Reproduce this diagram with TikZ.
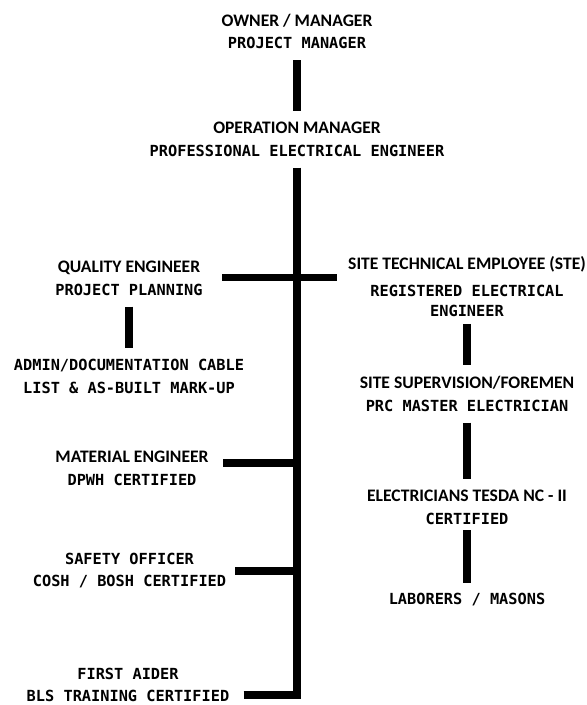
\documentclass[tikz,border=0pt]{standalone}
\usepackage{fontspec}
\usepackage{tikz}
\usetikzlibrary{calc}
\newfontfamily\rolefont{Carlito}
\newfontfamily\certfont{DejaVu Sans Mono}
\newcommand{\rtitle}{\rolefont\bfseries\fontsize{10}{13}\selectfont}
\newcommand{\rdesc}{\certfont\bfseries\fontsize{8.7}{13}\selectfont}
\tikzstyle{role}=[align=center,inner sep=2pt,font=\fontsize{10}{13}\selectfont]
\tikzstyle{bar}=[line width=4.5pt,shorten <=4pt,shorten >=4pt]
\tikzstyle{spine}=[line width=4pt,shorten <=4pt]
\tikzstyle{none}=[]

\begin{document}
\begin{tikzpicture}[x=0.2cm, y=-0.2cm]
            \useasboundingbox (0, 0) rectangle (58.6, 70.5);
            \node [style=role] (0) at (29.7, 3.15) {\rtitle OWNER / MANAGER\\\rdesc PROJECT MANAGER};
            \node [style=role] (1) at (29.7, 13.95) {\rtitle OPERATION MANAGER\\\rdesc PROFESSIONAL ELECTRICAL ENGINEER};
            \node [style=role] (2) at (12.9, 27.85) {\rtitle QUALITY ENGINEER\\\rdesc PROJECT PLANNING};
            \node [style=role] (3) at (12.9, 37.65) {\rdesc ADMIN/DOCUMENTATION CABLE\\\rdesc LIST \& AS-BUILT MARK-UP};
            \node [style=role] (4) at (13.2, 46.85) {\rtitle MATERIAL ENGINEER\\\rdesc DPWH CERTIFIED};
            \node [style=role] (5) at (12.95, 57.05) {\rdesc SAFETY OFFICER\\\rdesc COSH / BOSH CERTIFIED};
            \node [style=role] (6) at (12.8, 68.5) {\rdesc FIRST AIDER\\\rdesc BLS TRAINING CERTIFIED};
            \node [style=role] (7) at (46.7, 28.65) {\rtitle SITE TECHNICAL EMPLOYEE (STE)\\[2.3pt]\rdesc REGISTERED ELECTRICAL\\[-1.7pt]\rdesc ENGINEER};
            \node [style=role] (8) at (46.7, 39.4) {\rtitle SITE SUPERVISION/FOREMEN\\\rdesc PRC MASTER ELECTRICIAN};
            \node [style=role] (9) at (46.7, 50.75) {\rtitle ELECTRICIANS TESDA NC - II\\\rdesc CERTIFIED};
            \node [style=role] (10) at (46.7, 60.0) {\rdesc LABORERS / MASONS};
            \node [style=none] (20) at (29.7, 69.9) {};
            \node [style=none] (21) at (29.7, 27.75) {};
            \node [style=none] (22) at (29.7, 46.3) {};
            \node [style=none] (23) at (29.7, 57.1) {};
            \node [style=none] (24) at (29.7, 69.5) {};
            \draw [style=bar] (0) to (1);
            \draw [style=spine] (1) to (20.center);
            \draw [style=bar, shorten <=9pt] (21 -| 2.east) to (21 -| 7.west);
            \draw [style=bar] (2) to (3);
            \draw [style=bar, shorten <=6pt, shorten >=0pt] (22 -| 4.east) to (22.center);
            \draw [style=bar, shorten <=3pt, shorten >=0pt] (23 -| 5.east) to (23.center);
            \draw [style=bar, shorten <=6pt, shorten >=0pt] (24 -| 6.east) to (24.center);
            \draw [style=bar, shorten <=2pt] (7) to (8);
            \draw [style=bar] (8) to (9);
            \draw [style=bar, shorten <=1pt] (9) to (10);
    \end{tikzpicture}
\end{document}
